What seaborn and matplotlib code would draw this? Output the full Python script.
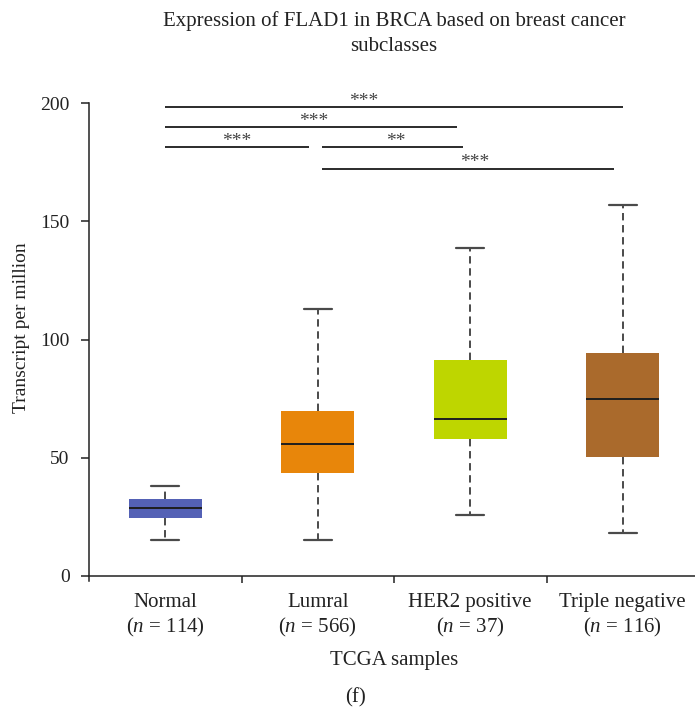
import numpy as np
import pandas as pd
import matplotlib
matplotlib.use("Agg")
import matplotlib.pyplot as plt
import seaborn as sns
from matplotlib.ticker import FixedLocator

# ---------------- data ----------------
categories = ["Normal", "Lumral", "HER2 positive", "Triple negative"]
sample_sizes = [114, 566, 37, 116]
whisker_low = [15.2, 15.4, 25.8, 18.3]
q1 = [24.7, 43.7, 58.0, 50.5]
median = [28.6, 55.8, 66.4, 74.8]
q3 = [32.6, 69.8, 91.4, 94.2]
whisker_high = [38.0, 113.0, 138.9, 157.1]
box_colors = ["#5461B5", "#E8860A", "#BED600", "#AA6A2C"]

# significance brackets (category index units, value units)
sig_start = [0.0, 0.0, 0.0, 1.03, 1.03]
sig_end = [3.0, 1.91, 0.94, 1.95, 2.94]
sig_level = [198.4, 190.0, 181.5, 181.5, 172.3]
sig_label = ["***", "***", "***", "**", "***"]
sig_label_x = [1.30, 0.97, 0.47, 1.51, 2.03]

y_ticks = [0, 50, 100, 150, 200]

# five-number summaries in long form (whis=(0,100) reproduces them exactly)
rows = []
for c, a, b, m, d, e in zip(categories, whisker_low, q1, median, q3, whisker_high):
    for v in (a, b, m, d, e):
        rows.append({"group": c, "value": v})
df = pd.DataFrame(rows)

sns.set_theme(style="ticks")
plt.rcParams["font.family"] = ["Liberation Serif", "DejaVu Serif"]
plt.rcParams["mathtext.fontset"] = "custom"
plt.rcParams["mathtext.rm"] = "Liberation Serif"
plt.rcParams["mathtext.it"] = "Liberation Serif:italic"

fig = plt.figure(figsize=(6.95, 7.12), dpi=100)
ax = fig.add_axes([89 / 695, (712 - 580.7) / 712, 610 / 695, 477.4 / 712])

sns.boxplot(
    data=df, x="group", y="value", hue="group", order=categories,
    hue_order=categories, palette=box_colors, saturation=1, legend=False,
    width=0.48, whis=(0, 100), showfliers=False, linewidth=1.3, ax=ax,
    capwidths=0.185,
    boxprops=dict(edgecolor="none", linewidth=0),
    whiskerprops=dict(color="#4a4a4a", linestyle=(0, (3.8, 2.4)),
                      linewidth=1.4, dash_capstyle="butt"),
    capprops=dict(color="#4a4a4a", linewidth=1.6),
    medianprops=dict(color="#1e1e1e", linewidth=1.4),
)

# significance brackets
for x0, x1, yv, lab, xt in zip(sig_start, sig_end, sig_level, sig_label, sig_label_x):
    ax.plot([x0, x1], [yv, yv], color="#1a1a1a", lw=1.3, solid_capstyle="butt",
            clip_on=False)
    ax.text(xt, yv + 0.6, lab, ha="center", va="baseline", fontsize=14,
            color="#444444")

ax.set_xlim(-0.5, 3.5)
ax.set_ylim(-2, 200)
ax.spines["bottom"].set_position(("data", 0))
ax.spines["top"].set_visible(False)
ax.spines["right"].set_visible(False)
for s in ("left", "bottom"):
    ax.spines[s].set_linewidth(1.1)
    ax.spines[s].set_color("#222222")

ax.set_yticks(y_ticks)
ax.set_yticklabels([str(t) for t in y_ticks])
ax.tick_params(axis="y", length=6, width=1.1, pad=8, labelsize=14,
               colors="#222222")

ax.set_xticks(range(len(categories)))
ax.set_xticklabels([f"{c}\n($n$ = {n})" for c, n in zip(categories, sample_sizes)],
                   linespacing=1.2)
ax.xaxis.set_minor_locator(FixedLocator([0.5, 1.5, 2.5]))
ax.tick_params(axis="x", which="major", length=0, pad=12.5, labelsize=15,
               colors="#222222")
ax.tick_params(axis="x", which="minor", length=5, width=1.1, color="#222222")

ax.set_xlabel("TCGA samples", fontsize=15, labelpad=9, color="#222222")
ax.set_ylabel("Transcript per million", fontsize=14, color="#222222")
ax.yaxis.set_label_coords(-0.0975, 0.531)

fig.text(394 / 695, 1 - 11 / 712,
         "Expression of FLAD1 in BRCA based on breast cancer\nsubclasses",
         ha="center", va="top", fontsize=15, linespacing=1.45, color="#222222")
fig.text(356 / 695, 1 - 698 / 712, "(f)", ha="center", va="center",
         fontsize=15, color="#222222")

fig.savefig("out.png", dpi=100)
